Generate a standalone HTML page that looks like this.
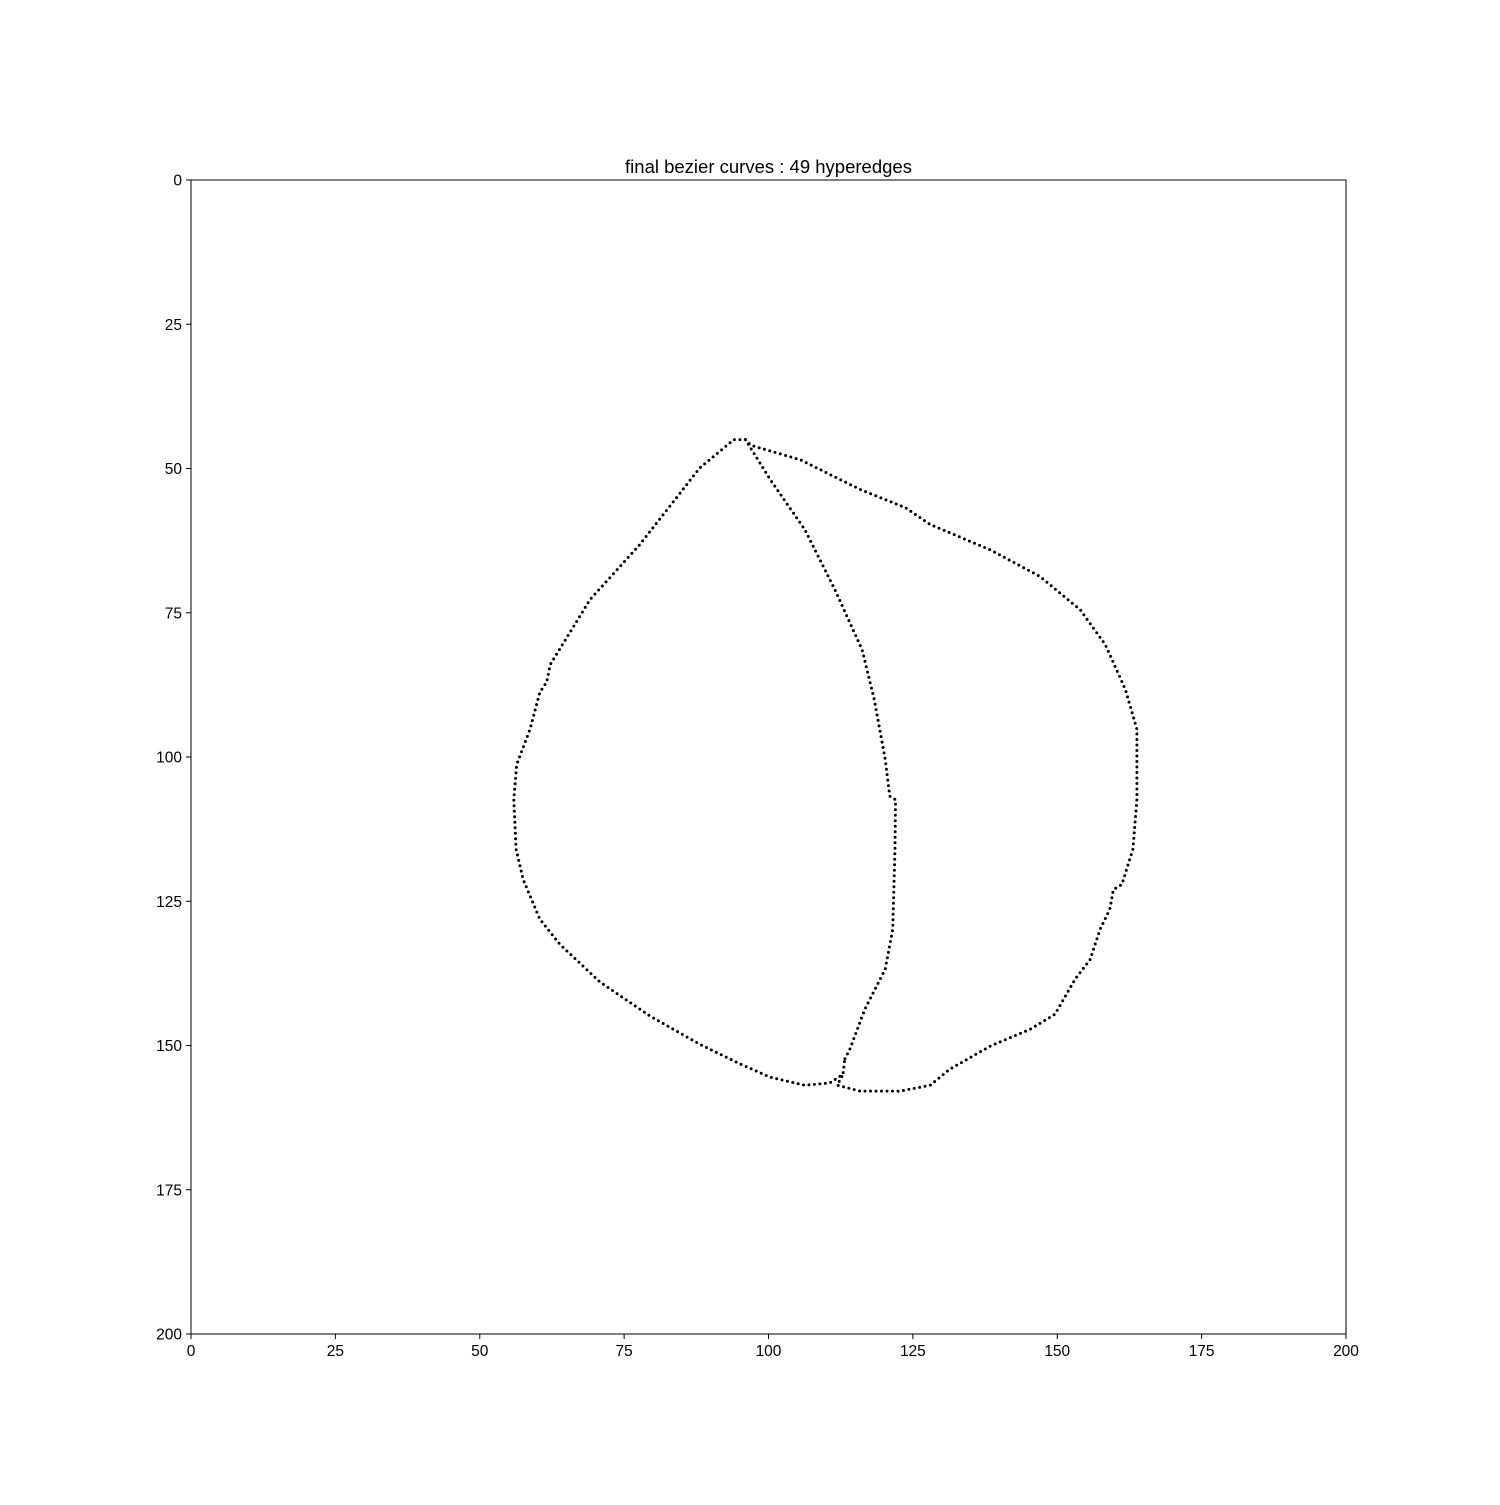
<!DOCTYPE html>
<html><head><meta charset="utf-8"><style>
html,body{margin:0;padding:0;background:#fff;}
svg text{font-family:"Liberation Sans","DejaVu Sans",sans-serif;fill:#000;}
</style></head><body>
<svg id="chart" width="1500" height="1500" xmlns="http://www.w3.org/2000/svg">
<rect width="1500" height="1500" fill="#fff"/>
<text x="768.5" y="173" font-size="18.5" text-anchor="middle">final bezier curves : 49 hyperedges</text>
<g id="curves"></g>
<g id="axes"></g>
</svg>
<script>
const xTicks=[0,25,50,75,100,125,150,175,200];
const yTicks=[0,25,50,75,100,125,150,175,200];
const leftX=[96,94,88.1,77.7,69.1,62.2,61.6,60.4,58.7,56.4,55.9,56.3,57.5,60.4,63.9,70.8,79.5,88.1,95.1,100.3,106.3,110.6,112.9,113.2];
const leftY=[45,45,49.9,63.2,72.7,84,87,88.8,95.2,101.3,107.4,116,121.2,128.1,132.5,139,144.9,149.8,153.2,155.5,156.9,156.5,155,152.4];
const midX=[96,100.3,106.3,111.5,116.2,118.3,120.2,121,122,121.9,121.5,120.2,116.7,114.1,113.2];
const midY=[45,51.9,60.6,71,81.4,90,100.4,106.8,107.4,116,129.9,136.8,143.7,150.6,152.4];
const rightX=[96,97,105.5,116,123.7,128,138.4,147,154,158.3,161.8,163.8,163.8,163.1,161.2,159.7,159.1,157.4,155.7,153.1,149.6,145.3,138.4,131.4,128,122.8,115.8,111.9,112.9];
const rightY=[45,46,48.5,53.7,56.8,59.7,64.1,68.7,74.5,80.5,88.3,95.2,107.4,116,122.1,123,126.4,129.9,135.1,138.5,144.6,147.2,150.1,154.1,156.9,157.9,157.9,156.9,155];
const X0=191,X1=1346,Y0=180,Y1=1334;
const sx=v=>X0+(X1-X0)*v/200;
const sy=v=>Y0+(Y1-Y0)*v/200;
const NS="http://www.w3.org/2000/svg";
const cg=document.getElementById('curves');
function curve(xs,ys,name){
  const p=document.createElementNS(NS,'path');
  
  
  let d='';
  xs.forEach((x,i)=>{d+=(i?'L':'M')+sx(x).toFixed(1)+' '+sy(ys[i]).toFixed(1);});
  p.setAttribute('d',d);
  p.setAttribute('fill','none');p.setAttribute('stroke','#000');
  p.setAttribute('stroke-width','3');p.setAttribute('stroke-linecap','round');
  p.setAttribute('stroke-dasharray','0 5.5');
  cg.appendChild(p);
}
curve(leftX,leftY,'left-curve');
curve(midX,midY,'middle-curve');
curve(rightX,rightY,'right-curve');
const ag=document.getElementById('axes');
const fr=document.createElementNS(NS,'rect');


fr.setAttribute('x',X0);fr.setAttribute('y',Y0);fr.setAttribute('width',X1-X0);fr.setAttribute('height',Y1-Y0);
fr.setAttribute('fill','none');fr.setAttribute('stroke','#000');fr.setAttribute('stroke-width','1');
ag.appendChild(fr);
xTicks.forEach(t=>{
  const l=document.createElementNS(NS,'line');
  
  
  l.setAttribute('x1',sx(t));l.setAttribute('x2',sx(t));l.setAttribute('y1',Y1);l.setAttribute('y2',Y1+5);
  l.setAttribute('stroke','#000');ag.appendChild(l);
  const tx=document.createElementNS(NS,'text');
  
  
  tx.setAttribute('x',sx(t));tx.setAttribute('y',Y1+22);tx.setAttribute('font-size','15.5');tx.setAttribute('text-anchor','middle');
  tx.textContent=t;ag.appendChild(tx);
});
yTicks.forEach(t=>{
  const l=document.createElementNS(NS,'line');
  
  
  l.setAttribute('x1',X0-5);l.setAttribute('x2',X0);l.setAttribute('y1',sy(t));l.setAttribute('y2',sy(t));
  l.setAttribute('stroke','#000');ag.appendChild(l);
  const tx=document.createElementNS(NS,'text');
  
  
  tx.setAttribute('x',X0-9);tx.setAttribute('y',sy(t)+5.5);tx.setAttribute('font-size','15.5');tx.setAttribute('text-anchor','end');
  tx.textContent=t;ag.appendChild(tx);
});
</script>
</body></html>
